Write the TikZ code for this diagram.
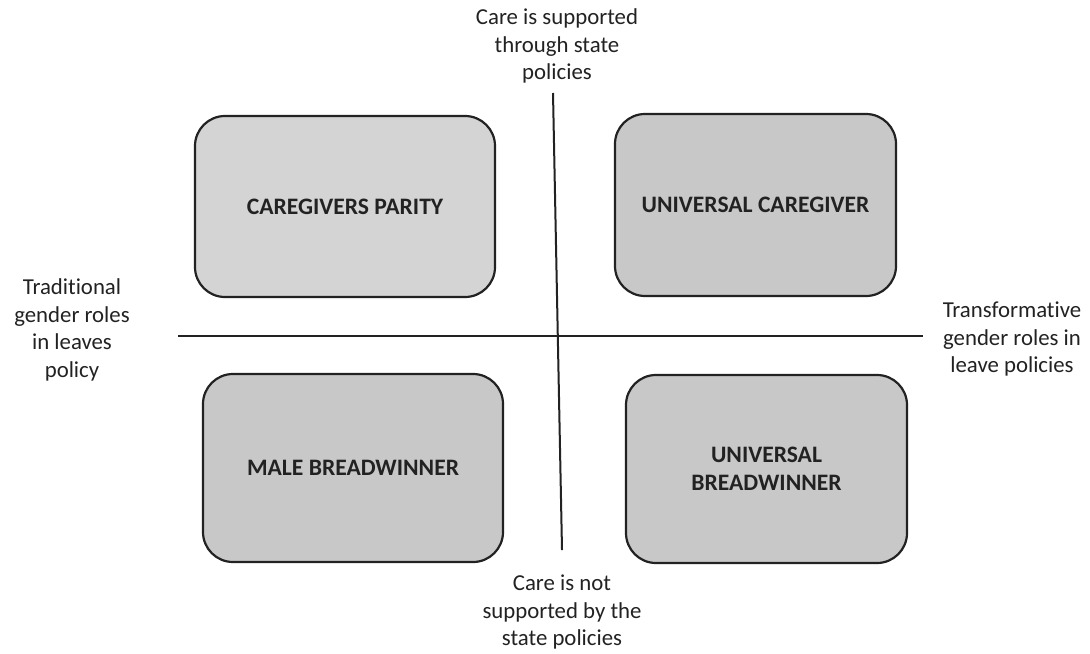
\documentclass[tikz,border=0pt]{standalone}
\usepackage{fontspec}
\setmainfont{Carlito}[Ligatures=NoCommon]
\usepackage{xcolor}
\usepackage{tikz}
\usetikzlibrary{positioning}

\definecolor{boxgray}{HTML}{C8C8C8}
\definecolor{boxlight}{HTML}{D4D4D4}
\definecolor{ink}{HTML}{222222}

\begin{document}
\begin{tikzpicture}[x=0.5pt,y=-0.5pt]
  \tikzset{ regime/.style={draw=ink,line width=1.1pt,rounded corners=15pt,fill=boxgray,
                           align=center,font=\fontsize{11.8}{14}\selectfont\bfseries,text=ink},
            axislabel/.style={align=center,font=\fontsize{11.4}{13.8}\selectfont,text=ink},
            axis/.style={draw=ink,line width=1pt},
  }
  \useasboundingbox (0,0) rectangle (1090,653);

  % the four regimes
  \node[regime,fill=boxlight,minimum width=150pt,minimum height=90.5pt] (parity) at (345,206.5) {CAREGIVERS PARITY};
  \node[regime,minimum width=140.5pt,minimum height=91pt] (caregiver) at (755.5,205) {UNIVERSAL CAREGIVER};
  \node[regime,minimum width=150pt,minimum height=94pt] (male) at (353,468) {MALE BREADWINNER};
  \node[regime,minimum width=140.5pt,minimum height=94pt] (breadwinner) at (766.5,469) {UNIVERSAL\\BREADWINNER};

  % labels at the ends of the axes
  \node[axislabel] (top) at (557,46) {Care is supported\\through state\\policies};
  \node[axislabel] (bottom) at (562,612) {Care is not\\supported by the\\state policies};
  \node[axislabel] (left) at (72,330) {Traditional\\gender roles\\in leaves\\policy};
  \node[axislabel] (right) at (1012,339) {Transformative\\gender roles in\\leave policies};

  % the axes
  \coordinate (h1) at (178,336);
  \coordinate (h2) at (923,336);
  \coordinate (v1) at (553,93);
  \coordinate (v2) at (562,550);
  \draw[axis] (h1) -- (h2);
  \draw[axis] (v1) -- (v2);
\end{tikzpicture}
\end{document}
